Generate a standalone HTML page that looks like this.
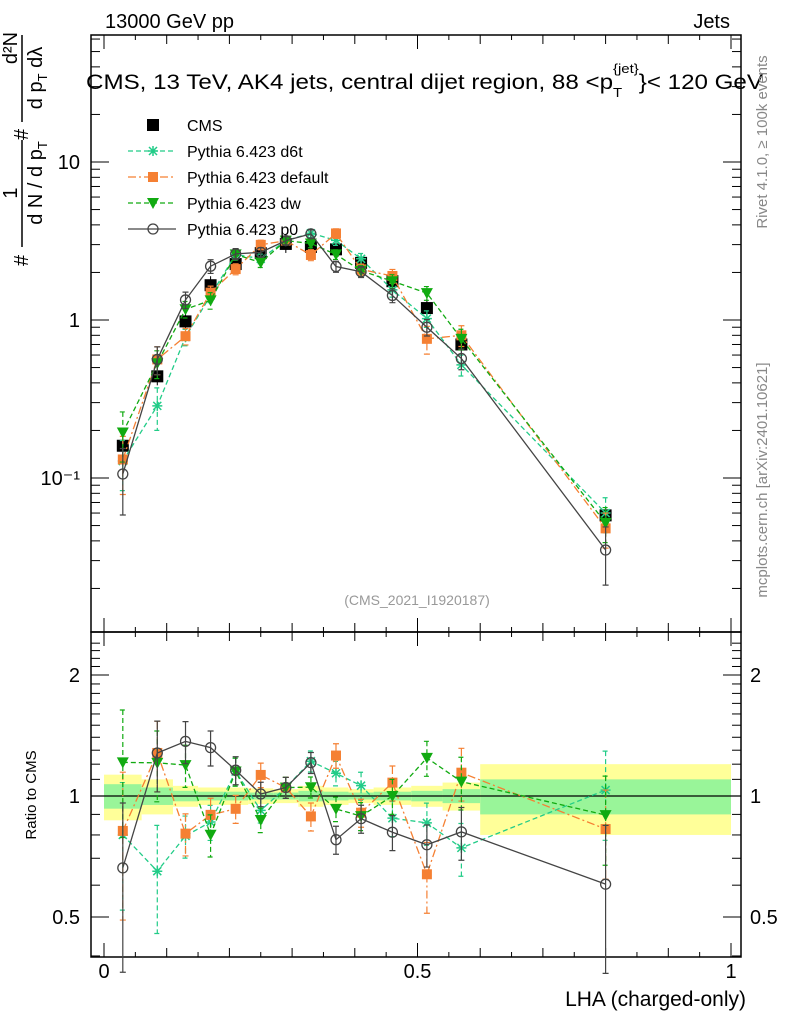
<!DOCTYPE html>
<html><head><meta charset="utf-8"><style>
body{margin:0;background:#fff}
svg{display:block;font-family:"Liberation Sans",sans-serif}
</style></head><body>
<svg id="c" width="786" height="1024" viewBox="0 0 786 1024"></svg>
<script>
const xCenters=[0.03,0.085,0.13,0.17,0.21,0.25,0.29,0.33,0.37,0.41,0.46,0.515,0.57,0.8];
const binEdges=[0,0.06,0.11,0.15,0.19,0.23,0.27,0.31,0.35,0.39,0.43,0.49,0.54,0.6,1.0];
const cmsVals=[0.16,0.44,0.98,1.66,2.26,2.65,3.03,2.9,2.8,2.3,1.76,1.19,0.70,0.058];
const d6tVals=[0.128,0.286,0.78,1.43,2.6,2.44,3.18,3.54,3.19,2.44,1.55,1.02,0.52,0.06];
const defVals=[0.131,0.563,0.79,1.49,2.10,2.99,3.18,2.58,3.53,2.09,1.90,0.76,0.80,0.048];
const dwVals=[0.194,0.532,1.17,1.33,2.60,2.31,3.18,3.05,2.60,2.05,1.76,1.48,0.76,0.052];
const p0Vals=[0.106,0.563,1.34,2.19,2.62,2.68,3.18,3.51,2.18,2.02,1.43,0.90,0.57,0.035];
const d6tErr=[0.35,0.3,0.12,0.1,0.08,0.07,0.06,0.06,0.07,0.08,0.1,0.12,0.15,0.25];
const defErr=[0.4,0.2,0.12,0.1,0.08,0.07,0.06,0.08,0.07,0.08,0.1,0.2,0.15,0.25];
const dwErr=[0.35,0.2,0.12,0.12,0.08,0.07,0.06,0.06,0.07,0.08,0.1,0.1,0.15,0.25];
const p0Err=[0.45,0.2,0.12,0.1,0.08,0.07,0.06,0.06,0.08,0.08,0.1,0.12,0.15,0.4];
const yellowBand=[0.13,0.10,0.06,0.05,0.05,0.045,0.04,0.06,0.05,0.04,0.05,0.06,0.08,0.2];
const greenBand=[0.07,0.05,0.03,0.025,0.025,0.02,0.02,0.03,0.025,0.02,0.025,0.03,0.04,0.1];
const ratioTicks=[0.5,1,2];
const xTicks=[0,0.5,1];
const yTickLabels=["10\u207B\u00B9","1","10"];
const yTickVals=[0.1,1,10];

const NS="http://www.w3.org/2000/svg";
const svg=document.getElementById('c');
function mk(t,a,p){const e=document.createElementNS(NS,t);for(const k in a)e.setAttribute(k,a[k]);(p||svg).appendChild(e);return e;}
const L=91,R=741,T=35,MB=632,RB=957;
const X=v=>104+v*627;
const Y=v=>320-158*Math.log10(v);
const RY=v=>796-121*Math.log2(v);
const ratio=(a,i)=>a[i]/cmsVals[i];

const bg=mk('g',{});

for(let i=0;i<xCenters.length;i++){
 const x0=X(binEdges[i]),x1=X(binEdges[i+1]);
 mk('rect',{x:x0,y:RY(1+yellowBand[i]),width:x1-x0,height:RY(1-yellowBand[i])-RY(1+yellowBand[i]),fill:'#ffff99'},bg);
 mk('rect',{x:x0,y:RY(1+greenBand[i]),width:x1-x0,height:RY(1-greenBand[i])-RY(1+greenBand[i]),fill:'#99f599'},bg);
}
mk('line',{x1:L,x2:R,y1:RY(1),y2:RY(1),stroke:'#000','stroke-width':1.3});

mk('rect',{x:L,y:T,width:R-L,height:MB-T,fill:'none',stroke:'#000','stroke-width':1.5});
mk('rect',{x:L,y:MB,width:R-L,height:RB-MB,fill:'none',stroke:'#000','stroke-width':1.5});
for(let k=0;k<=20;k++){const v=k*0.05,x=X(v),len=(k%10==0)?14:(k%2==0?9:5);
 [[T,1],[MB,-1],[MB,1],[RB,-1]].forEach(([y,s])=>mk('line',{x1:x,x2:x,y1:y,y2:y+s*len,stroke:'#000','stroke-width':1}));}
for(let d=-2;d<=1;d++)for(let m=1;m<10;m++){const v=m*Math.pow(10,d);const y=Y(v);if(y<T||y>MB)continue;const len=m==1?18:9;
 mk('line',{x1:L,x2:L+len,y1:y,y2:y,stroke:'#000'});mk('line',{x1:R,x2:R-len,y1:y,y2:y,stroke:'#000'});}
for(let v=0.4;v<=2.5;v+=0.1){const y=RY(v);if(y<MB||y>RB)continue;const big=[0.5,1,2].some(t=>Math.abs(t-v)<1e-6);const len=big?18:9;
 mk('line',{x1:L,x2:L+len,y1:y,y2:y,stroke:'#000'});mk('line',{x1:R,x2:R-len,y1:y,y2:y,stroke:'#000'});}
yTickVals.forEach((v,i)=>{const t=mk('text',{x:80,y:Y(v)+7,'text-anchor':'end','font-size':20});t.textContent=yTickLabels[i];
 });
ratioTicks.forEach(v=>{[[80,'end'],[750,'start']].forEach(([x,a])=>{const t=mk('text',{x:x,y:RY(v)+7,'text-anchor':a,'font-size':20});t.textContent=String(v);
 });});
xTicks.forEach(v=>{const t=mk('text',{x:X(v),y:978,'text-anchor':'middle','font-size':20});t.textContent=String(v);
 });

function marker(g,type,x,y,col){
 if(type=='sq')mk('rect',{x:x-6,y:y-6,width:12,height:12,fill:col},g);
 else if(type=='osq')mk('rect',{x:x-5,y:y-5,width:10,height:10,fill:col},g);
 else if(type=='tri')mk('path',{d:`M${x-6},${y-5}L${x+6},${y-5}L${x},${y+6}Z`,fill:col},g);
 else if(type=='star'){mk('path',{d:`M${x-5},${y}H${x+5}M${x},${y-5}V${y+5}M${x-4},${y-4}L${x+4},${y+4}M${x-4},${y+4}L${x+4},${y-4}`,stroke:col,'stroke-width':1.5},g);}
 else if(type=='circ')mk('circle',{cx:x,cy:y,r:5,fill:'none',stroke:col,'stroke-width':1.3},g);
}
function drawSeries(name,vals,errs,col,dash,type){
 [Y,RY].forEach((fy,pi)=>{
  const g=mk('g',{});
  
  
  const val=i=>pi?ratio(vals,i):vals[i];
  const pts=xCenters.map((x,i)=>X(x)+','+fy(val(i))).join(' ');
  mk('polyline',{points:pts,fill:'none',stroke:col,'stroke-width':1.3,'stroke-dasharray':dash},g);
  xCenters.forEach((x,i)=>{const v=val(i),e=errs[i];const px=X(x);
   const y1=fy(v*(1+e)),y2=fy(Math.max(v*(1-e),1e-3));
   mk('path',{d:`M${px},${y1}V${y2}M${px-3},${y1}H${px+3}M${px-3},${y2}H${px+3}`,stroke:col,'stroke-width':1.2,'stroke-dasharray':dash},g);
   marker(g,type,px,fy(v),col);});
 });
}
const cg=mk('g',{});
xCenters.forEach((x,i)=>{const px=X(x),y=Y(cmsVals[i]);mk('path',{d:`M${px},${y-9}V${y+9}`,stroke:'#000'},cg);marker(cg,'sq',px,y,'#000');});
drawSeries('pythia-d6t',d6tVals,d6tErr,'#22cc88','5,3','star');
drawSeries('pythia-default',defVals,defErr,'#f58033','8,3,2,3','osq');
drawSeries('pythia-dw',dwVals,dwErr,'#11aa11','5,3','tri');
drawSeries('pythia-p0',p0Vals,p0Err,'#444','','circ');

const leg=[['CMS','#000','','sq'],['Pythia 6.423 d6t','#22cc88','5,3','star'],['Pythia 6.423 default','#f58033','8,3,2,3','osq'],['Pythia 6.423 dw','#11aa11','5,3','tri'],['Pythia 6.423 p0','#444','','circ']];
leg.forEach((l,i)=>{const y=125+i*26;const g=mk('g',{});
 
 if(i>0)mk('line',{x1:128,x2:176,y1:y,y2:y,stroke:l[1],'stroke-width':1.3,'stroke-dasharray':l[2]},g);
 marker(g,l[3],153,y,l[1]);
 const t=mk('text',{x:187,y:y+6,'font-size':16},g);t.textContent=l[0];});

function txt(s,a,name,p){const t=mk('text',a,p);t.textContent=s;return t;}
txt('13000 GeV pp',{x:105,y:28,'font-size':20},'header-energy');
txt('Jets',{x:730,y:28,'font-size':20,'text-anchor':'end'},'header-process');
const tt=txt('',{x:86,y:89,'font-size':21,textLength:677,lengthAdjust:'spacingAndGlyphs'},'plot-title');
tt.innerHTML='CMS, 13 TeV, AK4 jets, central dijet region, 88 &lt;p<tspan dy="8" font-size="13">T</tspan><tspan dy="-24" dx="-8" font-size="13">{jet}</tspan><tspan dy="16">}&lt; 120 GeV</tspan>';
txt('(CMS_2021_I1920187)',{x:417,y:605,'font-size':14,fill:'#999','text-anchor':'middle'},'analysis-id');
txt('LHA (charged-only)',{x:746,y:1006,'font-size':21,'text-anchor':'end'},'x-axis-title');
txt('Ratio to CMS',{x:0,y:0,'font-size':15,'text-anchor':'middle',transform:'translate(36,795) rotate(-90)'},'ratio-axis-title');
txt('Rivet 4.1.0, \u2265 100k events',{x:0,y:0,'font-size':15,fill:'#888','text-anchor':'middle',transform:'translate(767,142) rotate(-90)'},'rivet-label');
txt('mcplots.cern.ch [arXiv:2401.10621]',{x:0,y:0,'font-size':15,fill:'#888','text-anchor':'middle',transform:'translate(767,480) rotate(-90)'},'mcplots-label');

// y-axis title as stacked fractions (rotated)
const yg=mk('g',{transform:'rotate(-90)'});

txt('#',{x:-266,y:28,'font-size':20},'y-title-hash',yg);
mk('line',{x1:-247,x2:-140,y1:22,y2:22,stroke:'#000','stroke-width':1.5},yg);
txt('1',{x:-193,y:17,'font-size':20,'text-anchor':'middle'},'y-title-num1',yg);
const d1=txt('',{x:-183,y:42,'font-size':20,'text-anchor':'middle'},'y-title-den1',yg);
d1.innerHTML='d N / d p<tspan font-size="13" dy="5">T</tspan>';
txt('#',{x:-140,y:28,'font-size':20},'y-title-hash2',yg);
mk('line',{x1:-122,x2:-35,y1:22,y2:22,stroke:'#000','stroke-width':1.5},yg);
txt('d\u00B2N',{x:-48,y:17,'font-size':20,'text-anchor':'middle'},'y-title-num2',yg);
const d2=txt('',{x:-78,y:42,'font-size':20,'text-anchor':'middle'},'y-title-den2',yg);
d2.innerHTML='d p<tspan font-size="13" dy="5">T</tspan><tspan dy="-5"> d\u03BB</tspan>';
</script>
</body></html>
